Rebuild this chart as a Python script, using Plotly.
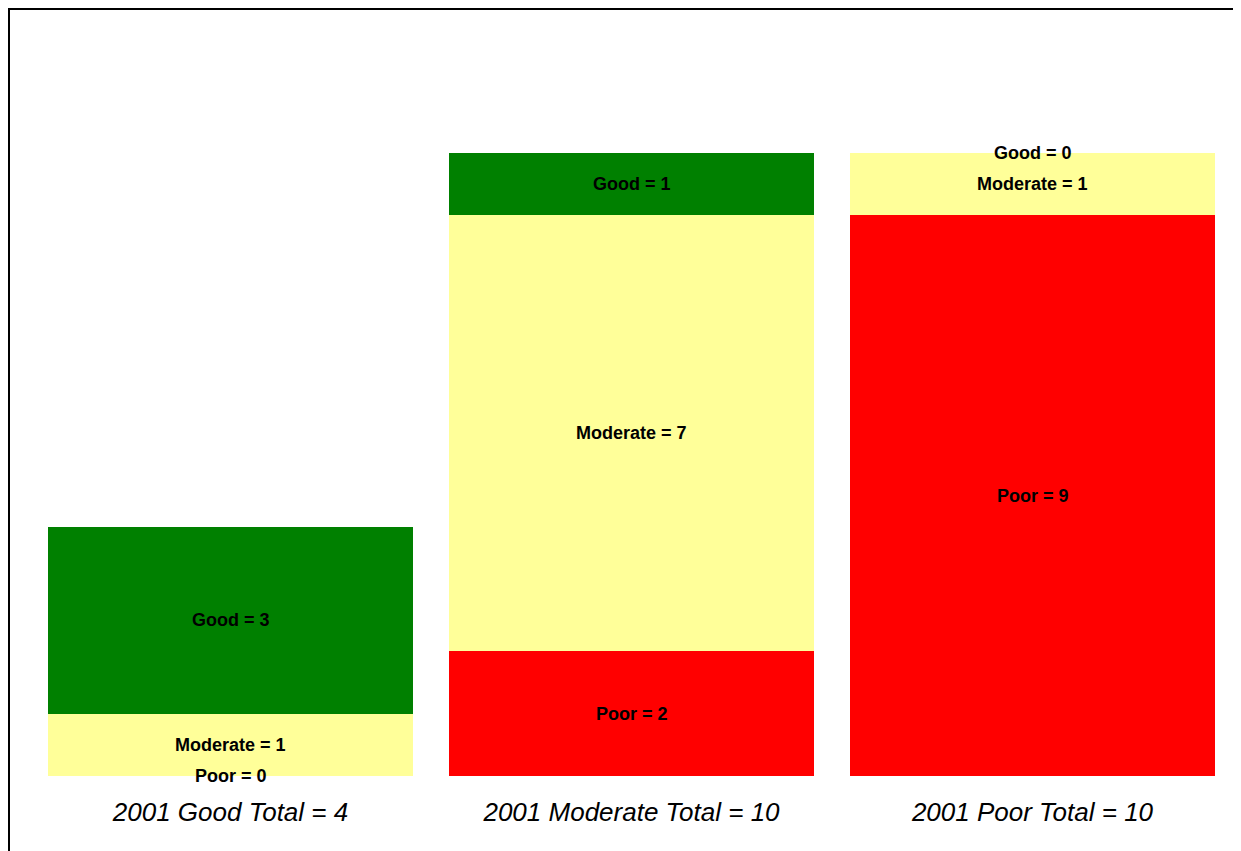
import plotly.graph_objects as go

categories = ["2001 Good Total = 4", "2001 Moderate Total = 10", "2001 Poor Total = 10"]
series_names = ["Poor", "Moderate", "Good"]
poor_values = [0, 2, 9]
moderate_values = [1, 7, 1]
good_values = [3, 1, 0]
series_colors = ["#FF0000", "#FFFF99", "#008000"]

series_values = [poor_values, moderate_values, good_values]

W, H = 1241, 851
ml, mr, mt, mb = 22, 16, 12, 83
pw, ph = W - ml - mr, H - mt - mb

fig = go.Figure()
for name, vals, col in zip(series_names, series_values, series_colors):
    fig.add_trace(go.Bar(x=categories, y=vals, name=name, marker=dict(color=col, line=dict(width=0)),
                         width=0.91, hoverinfo="skip"))

# labels centred in each segment
annotations = []
base = [0] * len(categories)
for name, vals in zip(series_names, series_values):
    for i, v in enumerate(vals):
        annotations.append(dict(x=categories[i], y=base[i] + v / 2, xref="x", yref="y",
                                text=f"<b>{name} = {v}</b>", showarrow=False,
                                font=dict(family="Liberation Sans, Arial, sans-serif", size=18, color="black")))
        base[i] += v

px_per_unit = 62.3
ymax = ph / px_per_unit

def px_to_paper_x(px):
    return (px - ml) / pw

def px_to_paper_y(py):
    return (mt + ph - py) / ph

shapes = [
    dict(type="line", xref="paper", yref="paper", x0=px_to_paper_x(1), x1=px_to_paper_x(1),
         y0=px_to_paper_y(900), y1=px_to_paper_y(0), line=dict(color="black", width=2)),
    dict(type="line", xref="paper", yref="paper", x0=px_to_paper_x(0), x1=px_to_paper_x(1300),
         y0=px_to_paper_y(1), y1=px_to_paper_y(1), line=dict(color="black", width=2)),
]

fig.update_layout(
    width=W, height=H,
    margin=dict(l=ml, r=mr, t=mt, b=mb, pad=0),
    barmode="stack",
    showlegend=False,
    plot_bgcolor="white", paper_bgcolor="white",
    annotations=annotations,
    shapes=shapes,
    xaxis=dict(showline=False, showgrid=False, ticks="", zeroline=False,
               range=[-0.5, 2.5],
               tickfont=dict(family="Liberation Sans, Arial, sans-serif", size=26, color="black", style="italic"),
               ticklabelstandoff=18),
    yaxis=dict(visible=False, range=[0, ymax], showgrid=False, zeroline=False),
)

fig.write_html("out.html")
